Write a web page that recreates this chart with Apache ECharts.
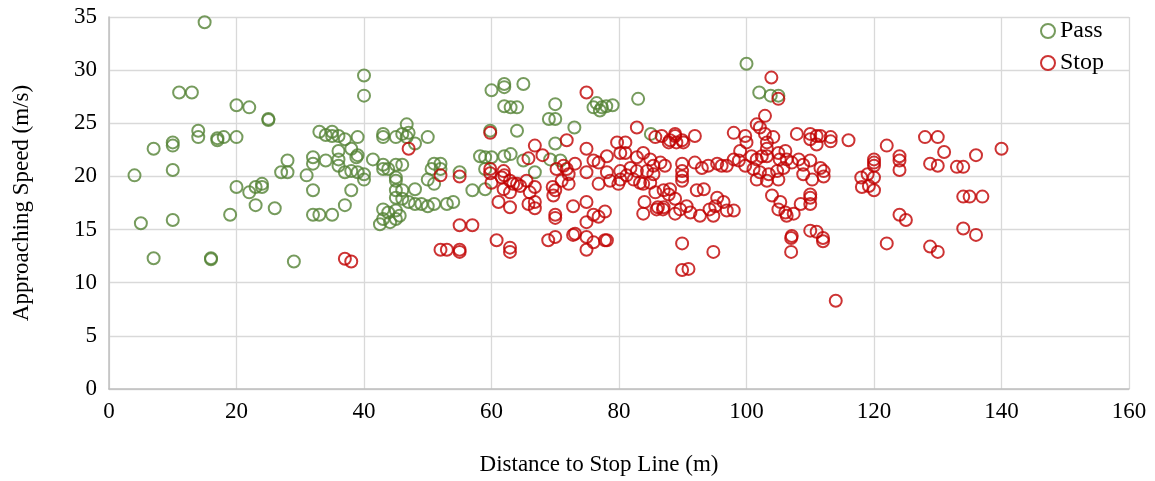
<!DOCTYPE html>
<html>
<head>
<meta charset="utf-8">
<script src="https://cdn.jsdelivr.net/npm/echarts@6/dist/echarts.min.js"></script>
<style>
html,body{margin:0;padding:0;background:#fff;}
#chart{width:1155px;height:481px;}
</style>
</head>
<body>
<div id="chart"></div>
<script>
// Data (Distance to stop line [m], Approaching speed [m/s])
const seriesNames = ['Pass', 'Stop'];
const xTicks = [0, 20, 40, 60, 80, 100, 120, 140, 160];
const yTicks = [0, 5, 10, 15, 20, 25, 30, 35];

const passPoints = [
[4,20.1],[5,15.6],[7,22.6],[7,12.3],[10,23.2],[10,22.9],[10,20.6],[10,15.9],[11,27.9],[13,27.9],
[14,24.3],[14,23.7],[15,34.5],[16,12.3],[16,12.2],[17,23.6],[17,23.4],[18,23.7],[19,16.4],[20,26.7],
[20,23.7],[20,19.0],[22,26.5],[22,18.5],[23,19.0],[23,17.3],[24,19.3],[24,19.0],[25,25.4],[25,25.3],
[26,17.0],[27,20.4],[28,21.5],[28,20.4],[29,12.0],[31,20.1],[32,21.8],[32,21.2],[32,18.7],[32,16.4],
[33,24.2],[33,16.4],[34,23.9],[34,21.5],[35,24.2],[35,23.8],[35,16.4],[36,23.8],[36,22.4],[36,21.6],
[36,21.0],[37,23.5],[37,20.4],[37,17.3],[38,22.6],[38,18.7],[38,20.5],[38.8,21.8],[39,23.7],
[39,20.4],[39,22.0],[40,29.5],[40,27.6],[40,20.2],[40,19.7],[41.4,21.6],[43,24.0],[43,23.7],[43,21.1],
[43,20.7],[43,16.9],[43,16.0],[42.5,15.5],[43.8,20.7],[43.8,16.6],[44.1,15.7],[45,23.7],[45,21.1],[45,19.9],
[45,19.6],[45,18.7],[45,18.0],[45,16.8],[45,16.0],[45.6,16.3],[46,24.0],[46,21.1],[46,18.7],[46,17.9],
[46.7,24.9],[46.7,23.7],[47,24.1],[47,17.6],[48,23.1],[48,18.8],[48,17.4],[49,17.4],[50,23.7],[50,19.7],
[50,17.2],[50.6,20.7],[51,21.2],[51,19.3],[51,17.4],[52,21.2],[52,20.7],[53,17.4],[54,17.6],[55,20.4],
[57,18.7],[58.2,21.9],[59,21.8],[59,20.7],[59,18.8],[59.8,24.3],[60,28.1],[60,21.8],[62,28.7],[62,28.4],
[62,26.6],[62,21.9],[63,26.5],[63,22.1],[64,26.5],[64,24.3],[65,28.7],[65,21.5],[66.8,20.4],[69,25.4],
[69.2,21.6],[70,26.8],[70,25.4],[70,23.1],[70.8,21.5],[73,24.6],[76,26.5],[76.5,26.9],[77,26.2],[77.3,26.5],
[78,26.6],[79,26.7],[83,27.3],[85,24.0],[100,30.6],[102,27.9],[103.8,27.6],[105,27.6]
];

const stopPoints = [
[37,12.25],[38,12.0],[47,22.6],[52,20.1],[52,13.1],[53,13.1],[55,20.0],[55,15.4],[55,13.1],[55,12.9],
[57,15.4],[59.8,24.1],[59.8,20.7],[59.8,20.3],[60,19.4],[60.8,14.0],[61.1,17.6],[61.6,19.9],[61.9,20.5],[61.9,18.8],
[62,20.1],[62.9,19.6],[62.9,18.5],[62.9,17.1],[62.9,13.3],[62.9,12.9],[63.4,19.3],[64,19.3],[64.5,19.1],[65.5,19.6],
[65.8,21.7],[65.8,17.4],[66,18.5],[66.8,22.9],[66.8,19.0],[66.8,17.6],[66.8,17.0],[68,22.0],[68.9,14.0],[69.6,19.0],
[69.7,18.2],[70,18.7],[70,16.4],[70,16.1],[70,14.3],[70.2,20.7],[71,19.6],[71.3,21.0],[71.8,23.4],[71.8,20.7],
[72.1,20.2],[72.1,19.3],[72.8,17.2],[72.8,14.5],[73.1,21.2],[73.1,14.6],[74.9,27.9],[74.9,22.6],[74.9,20.4],[74.9,17.6],
[74.9,15.7],[74.9,14.3],[74.9,13.1],[76,21.5],[76,16.4],[76,13.8],[76.8,21.3],[76.8,19.3],[76.8,16.2],[77.8,16.7],
[77.8,14.0],[78.1,21.9],[78.1,20.4],[78.1,14.0],[78.6,19.6],[79.7,23.2],[79.9,19.3],[80.2,22.2],[80.2,20.5],[80.2,19.7],
[81,23.2],[81,22.2],[81.2,20.1],[81.8,20.8],[82.3,19.7],[82.8,24.6],[82.8,21.8],[82.8,20.5],[83.3,19.4],[83.8,22.2],
[83.8,19.3],[83.8,16.5],[84,17.6],[84.4,20.5],[84.9,21.6],[84.9,19.4],[85.4,21.0],[85.4,20.2],[85.7,23.7],[85.7,18.5],
[85.9,16.9],[86.1,17.1],[86.5,21.3],[86.7,23.8],[86.9,16.9],[87,18.7],[87,17.1],[87.2,21.0],[87.8,23.2],[87.8,18.3],
[88,23.4],[88,18.8],[88.8,24.0],[88.8,23.8],[88.8,17.9],[88.8,16.5],[89,23.2],[89.6,16.9],[89.9,23.4],[89.9,21.2],
[89.9,20.5],[89.9,20.0],[89.9,19.6],[89.9,13.7],[89.9,11.2],[90.1,23.2],[90.6,17.2],[90.9,11.3],[91.2,16.6],[91.9,23.8],
[91.9,21.3],[92.2,18.7],[92.7,16.3],[93,20.8],[93.3,18.8],[94,21.0],[94.2,16.9],[94.8,16.3],[94.8,12.9],[95.1,17.2],
[95.4,21.2],[95.4,18.0],[96.1,21.0],[96.4,17.6],[96.9,21.0],[96.9,16.8],[98,24.1],[98,21.6],[98,16.8],[98.8,21.5],
[99,22.4],[99.8,23.8],[99.8,21.0],[100,23.2],[100.8,21.9],[101.1,20.7],[101.6,24.9],[101.6,21.6],[101.6,19.7],[102.1,24.6],
[102.1,20.4],[102.4,21.9],[102.9,25.7],[102.9,24.0],[103.2,23.2],[103.2,22.6],[103.2,21.9],[103.2,19.6],[103.5,20.2],[103.9,29.3],
[104,18.2],[104.2,23.7],[104.8,20.5],[105,27.3],[105,22.2],[105,19.7],[105,16.9],[105.2,21.6],[105.3,17.6],[105.8,20.8],
[106.1,22.4],[106.1,16.6],[106.3,21.6],[106.3,16.3],[107,14.2],[107,12.9],[107.1,21.3],[107.1,14.4],[107.4,16.5],[107.9,24.0],
[108.2,21.6],[108.5,17.4],[108.9,21.1],[108.9,20.2],[110,24.0],[110,23.5],[110,21.5],[110,18.3],[110,18.0],[110,17.4],
[110,14.9],[110.3,19.7],[111,23.8],[111,23.0],[111,14.8],[111.6,23.8],[111.6,20.8],[112,14.2],[112,13.9],[112.1,20.5],
[112.1,20.0],[113.2,23.3],[113.2,23.7],[114,8.3],[116,23.4],[118,19.9],[118.1,19.0],[119,20.2],[119.2,19.1],[120,21.6],
[120,21.3],[120,21.0],[120,19.9],[120,18.7],[122,22.9],[122,13.7],[124,21.9],[124,21.5],[124,20.6],[124,16.4],
[125,15.9],[128,23.7],[128.8,21.2],[128.8,13.4],[130,23.7],[130,21.0],[130,12.9],[131,22.3],[133,20.9],[134,20.9],
[134,18.1],[134,15.1],[135,18.1],[136,22.0],[136,14.5],[137,18.1],[140,22.6]
];

const xTitle = 'Distance to Stop Line (m)';
const yTitle = 'Approaching Speed (m/s)';
const passColor = '#548235';
const stopColor = '#C00000';
const font = '"Liberation Serif", "Times New Roman", serif';
const fs = 23;

const chart = echarts.init(document.getElementById('chart'), null, {renderer: 'canvas'});
chart.setOption({
  animation: false,
  backgroundColor: '#ffffff',
  textStyle: {fontFamily: font, color: '#000'},
  grid: {left: 109, right: 26, top: 17, bottom: 90, containLabel: false},
  legend: {
    data: seriesNames,
    orient: 'vertical',
    left: 1035, top: 14,
    itemWidth: 14, itemHeight: 14, itemGap: 8,
    textStyle: {fontFamily: font, fontSize: fs + 1, color: '#000'}
  },
  xAxis: {
    type: 'value', min: xTicks[0], max: xTicks[xTicks.length - 1], interval: xTicks[1] - xTicks[0],
    name: xTitle, nameLocation: 'middle', nameGap: 64,
    nameTextStyle: {fontFamily: font, fontSize: fs, color: '#000', padding: [0, 40, 0, 0]},
    axisLine: {show: true, lineStyle: {color: '#bfbfbf', width: 1.5}},
    axisTick: {show: false},
    axisLabel: {fontFamily: font, fontSize: fs, color: '#000', margin: 11},
    splitLine: {show: true, lineStyle: {color: '#d9d9d9', width: 1.3}}
  },
  yAxis: {
    type: 'value', min: yTicks[0], max: yTicks[yTicks.length - 1], interval: yTicks[1] - yTicks[0],
    name: yTitle, nameLocation: 'middle', nameGap: 76,
    nameTextStyle: {fontFamily: font, fontSize: fs, color: '#000'},
    axisLine: {show: true, lineStyle: {color: '#bfbfbf', width: 1.5}},
    axisTick: {show: false},
    axisLabel: {fontFamily: font, fontSize: fs, color: '#000', margin: 12},
    splitLine: {show: true, lineStyle: {color: '#d9d9d9', width: 1.3}}
  },
  series: [
    {name: seriesNames[0], type: 'scatter', data: passPoints, symbol: 'circle', symbolSize: 12,
     itemStyle: {color: 'rgba(0,0,0,0)', borderColor: passColor, borderWidth: 2}},
    {name: seriesNames[1], type: 'scatter', data: stopPoints, symbol: 'circle', symbolSize: 12,
     itemStyle: {color: 'rgba(0,0,0,0)', borderColor: stopColor, borderWidth: 2}}
  ]
});
</script>
</body>
</html>
